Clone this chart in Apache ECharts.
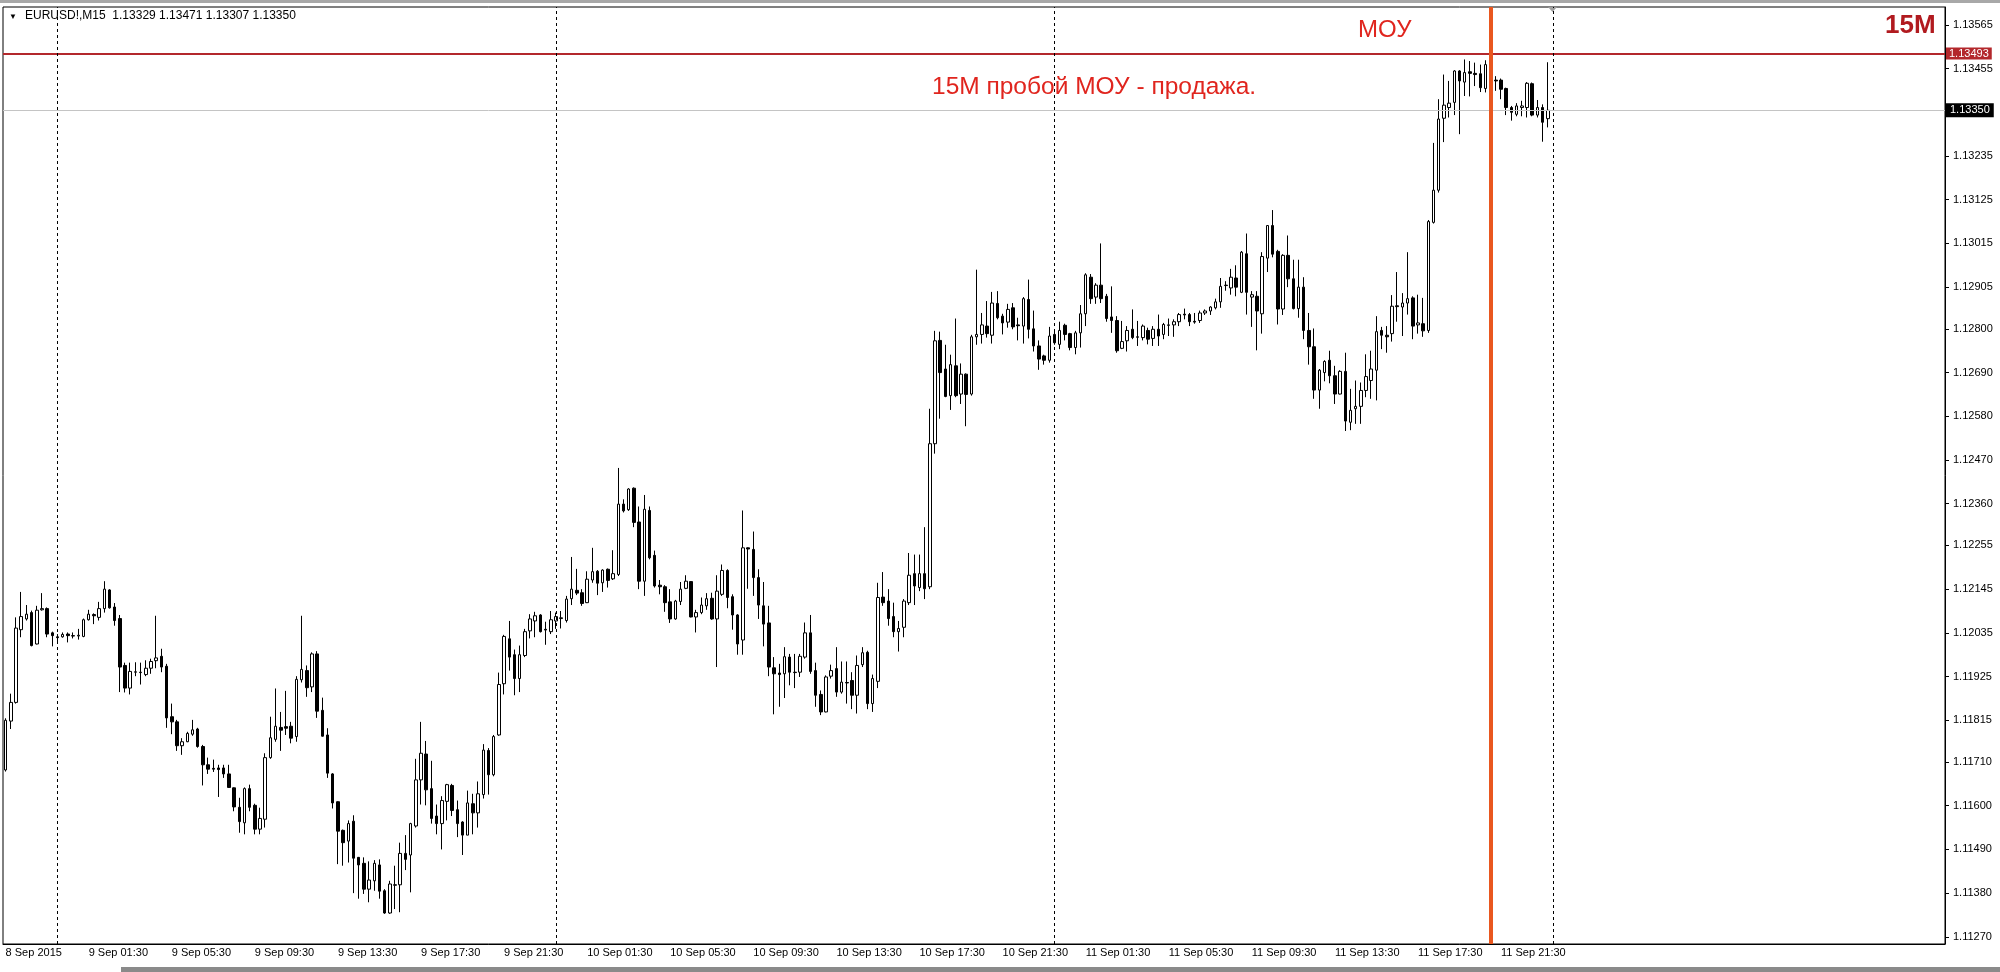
<!DOCTYPE html>
<html>
<head>
<meta charset="utf-8">
<title>EURUSD M15</title>
<script src="https://cdn.jsdelivr.net/npm/echarts@6/dist/echarts.min.js"></script>
<style>
  html, body { margin: 0; padding: 0; background: #fff; }
  #chart { width: 2000px; height: 972px; }
</style>
</head>
<body>
<div id="chart"></div>
<script>
// EURUSD M15 candles, 8 Sep 2015 21:30 -> 11 Sep 23:45, MT4 style

const headerText = 'EURUSD!,M15  1.13329 1.13471 1.13307 1.13350';

const opens = [
  1.11690,1.11813,1.11860,1.12043,1.12070,1.12086,1.12007,1.12093,1.12096,1.12035,
  1.12025,1.12025,1.12032,1.12028,1.12027,1.12026,1.12068,1.12081,1.12074,1.12096,
  1.12143,1.12100,1.12071,1.11953,1.11896,1.11936,1.11936,1.11930,1.11946,1.11965,
  1.11976,1.11951,1.11824,1.11811,1.11751,1.11761,1.11780,1.11793,1.11749,1.11703,
  1.11694,1.11695,1.11695,1.11680,1.11645,1.11596,1.11557,1.11643,1.11601,1.11541,
  1.11566,1.11721,1.11767,1.11797,1.11799,1.11800,1.11774,1.11917,1.11940,1.11899,
  1.11982,1.11840,1.11778,1.11680,1.11610,1.11538,1.11511,1.11561,1.11470,1.11455,
  1.11390,1.11411,1.11451,1.11386,1.11330,1.11401,1.11401,1.11480,1.11476,1.11549,
  1.11665,1.11730,1.11643,1.11574,1.11555,1.11611,1.11651,1.11590,1.11559,1.11526,
  1.11605,1.11582,1.11628,1.11739,1.11678,1.11778,1.11907,1.12020,1.11980,1.11920,
  1.11978,1.12040,1.12065,1.12080,1.12044,1.12038,1.12065,1.12071,1.12066,1.12121,
  1.12142,1.12136,1.12111,1.12168,1.12190,1.12161,1.12195,1.12171,1.12182,1.12359,
  1.12345,1.12399,1.12314,1.12165,1.12343,1.12230,1.12155,1.12151,1.12113,1.12070,
  1.12114,1.12147,1.12164,1.12075,1.12086,1.12103,1.12122,1.12070,1.12132,1.12192,
  1.12126,1.12080,1.12017,1.12249,1.12245,1.12174,1.12103,1.12060,1.11947,1.11934,
  1.11932,1.11974,1.11936,1.11936,1.11974,1.12035,1.11940,1.11880,1.11836,1.11926,
  1.11945,1.11886,1.11910,1.11915,1.11878,1.11955,1.11986,1.11857,1.11913,1.12125,
  1.12115,1.12076,1.12038,1.12049,1.12111,1.12184,1.12149,1.12184,1.12151,1.12511,
  1.12771,1.12699,1.12632,1.12707,1.12636,1.12686,1.12636,1.12780,1.12786,1.12807,
  1.12784,1.12864,1.12832,1.12817,1.12853,1.12810,1.12807,1.12874,1.12800,1.12757,
  1.12732,1.12721,1.12786,1.12761,1.12809,1.12788,1.12753,1.12790,1.12838,1.12930,
  1.12880,1.12910,1.12882,1.12830,1.12821,1.12751,1.12770,1.12799,1.12780,1.12778,
  1.12796,1.12776,1.12799,1.12786,1.12810,1.12810,1.12818,1.12837,1.12836,1.12819,
  1.12821,1.12840,1.12845,1.12853,1.12868,1.12910,1.12903,1.12928,1.12892,1.12989,
  1.12880,1.12882,1.12838,1.12978,1.13060,1.12995,1.12850,1.12985,1.12926,1.12851,
  1.12905,1.12796,1.12755,1.12646,1.12690,1.12721,1.12682,1.12636,1.12693,1.12565,
  1.12599,1.12605,1.12645,1.12670,1.12696,1.12796,1.12784,1.12788,1.12858,1.12855,
  1.12865,1.12878,1.12810,1.12813,1.12796,1.13068,1.13149,1.13330,1.13357,1.13370,
  1.13449,1.13421,1.13447,1.13443,1.13442,1.13405,1.13463,1.13426,1.13426,1.13405,
  1.13357,1.13340,1.13357,1.13357,1.13417,1.13338,1.13357,1.13329
];

const closes = [
  1.11815,1.11860,1.12047,1.12076,1.12082,1.12003,1.12092,1.12096,1.12032,1.12028,
  1.12023,1.12031,1.12028,1.12027,1.12029,1.12068,1.12082,1.12078,1.12096,1.12145,
  1.12098,1.12066,1.11949,1.11896,1.11938,1.11937,1.11935,1.11946,1.11963,1.11972,
  1.11949,1.11821,1.11811,1.11751,1.11761,1.11782,1.11791,1.11749,1.11703,1.11692,
  1.11692,1.11691,1.11680,1.11646,1.11597,1.11560,1.11643,1.11596,1.11541,1.11568,
  1.11721,1.11771,1.11800,1.11790,1.11795,1.11770,1.11918,1.11943,1.11897,1.11982,
  1.11838,1.11775,1.11682,1.11607,1.11536,1.11507,1.11555,1.11468,1.11451,1.11390,
  1.11413,1.11455,1.11385,1.11330,1.11403,1.11400,1.11480,1.11465,1.11555,1.11665,
  1.11732,1.11640,1.11568,1.11555,1.11613,1.11653,1.11588,1.11555,1.11526,1.11607,
  1.11582,1.11630,1.11740,1.11678,1.11774,1.11905,1.12026,1.11974,1.11920,1.11980,
  1.12038,1.12070,1.12078,1.12038,1.12042,1.12068,1.12076,1.12073,1.12120,1.12145,
  1.12135,1.12109,1.12170,1.12189,1.12160,1.12193,1.12167,1.12184,1.12359,1.12342,
  1.12397,1.12313,1.12165,1.12346,1.12224,1.12153,1.12151,1.12111,1.12070,1.12115,
  1.12145,1.12165,1.12075,1.12086,1.12105,1.12121,1.12070,1.12140,1.12192,1.12124,
  1.12080,1.12007,1.12249,1.12246,1.12174,1.12105,1.12057,1.11949,1.11932,1.11930,
  1.11975,1.11936,1.11935,1.11976,1.12035,1.11938,1.11878,1.11836,1.11924,1.11940,
  1.11886,1.11911,1.11909,1.11878,1.11953,1.11985,1.11857,1.11920,1.12124,1.12111,
  1.12071,1.12038,1.12046,1.12115,1.12180,1.12153,1.12184,1.12146,1.12511,1.12770,
  1.12690,1.12630,1.12710,1.12632,1.12686,1.12635,1.12780,1.12786,1.12810,1.12788,
  1.12865,1.12828,1.12815,1.12849,1.12805,1.12808,1.12876,1.12799,1.12757,1.12724,
  1.12721,1.12782,1.12765,1.12796,1.12786,1.12753,1.12790,1.12838,1.12936,1.12876,
  1.12910,1.12876,1.12826,1.12821,1.12745,1.12768,1.12796,1.12778,1.12779,1.12807,
  1.12774,1.12799,1.12782,1.12811,1.12809,1.12818,1.12836,1.12835,1.12818,1.12817,
  1.12840,1.12845,1.12855,1.12868,1.12907,1.12909,1.12930,1.12905,1.12993,1.12892,
  1.12886,1.12845,1.12982,1.13060,1.12988,1.12850,1.12985,1.12926,1.12851,1.12905,
  1.12796,1.12755,1.12646,1.12696,1.12718,1.12682,1.12636,1.12693,1.12568,1.12595,
  1.12605,1.12645,1.12680,1.12699,1.12793,1.12784,1.12780,1.12857,1.12856,1.12865,
  1.12876,1.12807,1.12815,1.12795,1.13070,1.13149,1.13328,1.13363,1.13368,1.13449,
  1.13424,1.13445,1.13443,1.13440,1.13407,1.13465,1.13421,1.13424,1.13403,1.13357,
  1.13345,1.13361,1.13361,1.13418,1.13338,1.13357,1.13320,1.13350
];

const lows = [
  1.11686,1.11793,1.11857,1.12024,1.12066,1.12001,1.12006,1.12091,1.12024,1.12001,
  1.12007,1.12023,1.12011,1.12021,1.12018,1.12024,1.12066,1.12057,1.12066,1.12086,
  1.12096,1.12053,1.11886,1.11885,1.11880,1.11926,1.11905,1.11926,1.11932,1.11946,
  1.11936,1.11796,1.11780,1.11738,1.11728,1.11760,1.11776,1.11746,1.11651,1.11680,
  1.11685,1.11622,1.11670,1.11645,1.11586,1.11532,1.11528,1.11586,1.11528,1.11528,
  1.11545,1.11718,1.11761,1.11738,1.11778,1.11757,1.11761,1.11910,1.11874,1.11886,
  1.11821,1.11774,1.11670,1.11593,1.11453,1.11449,1.11457,1.11380,1.11366,1.11378,
  1.11357,1.11386,1.11366,1.11328,1.11328,1.11340,1.11332,1.11438,1.11382,1.11545,
  1.11603,1.11601,1.11555,1.11528,1.11490,1.11563,1.11574,1.11521,1.11476,1.11526,
  1.11528,1.11545,1.11618,1.11628,1.11674,1.11776,1.11880,1.11940,1.11878,1.11886,
  1.11974,1.12021,1.12024,1.12036,1.12005,1.12032,1.12045,1.12046,1.12061,1.12105,
  1.12130,1.12103,1.12110,1.12161,1.12130,1.12138,1.12149,1.12168,1.12178,1.12338,
  1.12342,1.12301,1.12145,1.12128,1.12220,1.12149,1.12132,1.12088,1.12060,1.12068,
  1.12105,1.12145,1.12074,1.12036,1.12082,1.12093,1.12068,1.11949,1.12128,1.12097,
  1.12043,1.11980,1.11980,1.12146,1.12128,1.12070,1.12001,1.11926,1.11830,1.11849,
  1.11871,1.11903,1.11896,1.11924,1.11970,1.11932,1.11849,1.11828,1.11835,1.11920,
  1.11874,1.11882,1.11857,1.11843,1.11832,1.11949,1.11843,1.11836,1.11896,1.12103,
  1.12053,1.12024,1.11988,1.12024,1.12105,1.12105,1.12140,1.12120,1.12145,1.12486,
  1.12574,1.12628,1.12596,1.12628,1.12611,1.12555,1.12632,1.12760,1.12763,1.12778,
  1.12763,1.12824,1.12786,1.12803,1.12799,1.12771,1.12763,1.12776,1.12743,1.12697,
  1.12710,1.12715,1.12760,1.12749,1.12771,1.12746,1.12736,1.12753,1.12807,1.12863,
  1.12863,1.12865,1.12818,1.12790,1.12740,1.12749,1.12743,1.12774,1.12757,1.12771,
  1.12761,1.12757,1.12757,1.12774,1.12782,1.12780,1.12807,1.12824,1.12807,1.12813,
  1.12815,1.12835,1.12835,1.12849,1.12853,1.12896,1.12886,1.12882,1.12890,1.12836,
  1.12805,1.12746,1.12788,1.12943,1.12980,1.12811,1.12835,1.12905,1.12849,1.12828,
  1.12774,1.12710,1.12624,1.12599,1.12668,1.12663,1.12611,1.12635,1.12543,1.12545,
  1.12561,1.12561,1.12628,1.12624,1.12620,1.12749,1.12740,1.12768,1.12818,1.12782,
  1.12836,1.12774,1.12788,1.12780,1.12790,1.13065,1.13143,1.13270,1.13332,1.13338,
  1.13290,1.13386,1.13385,1.13411,1.13396,1.13395,1.13411,1.13399,1.13378,1.13338,
  1.13324,1.13335,1.13335,1.13332,1.13335,1.13332,1.13271,1.13307
];

const highs = [
  1.11820,1.11882,1.12074,1.12138,1.12105,1.12091,1.12103,1.12135,1.12099,1.12038,
  1.12032,1.12036,1.12036,1.12036,1.12045,1.12071,1.12093,1.12084,1.12113,1.12165,
  1.12145,1.12110,1.12080,1.11960,1.11960,1.11961,1.11960,1.11966,1.11970,1.12078,
  1.11995,1.11957,1.11857,1.11816,1.11770,1.11786,1.11816,1.11796,1.11753,1.11721,
  1.11716,1.11703,1.11703,1.11703,1.11646,1.11620,1.11646,1.11653,1.11605,1.11595,
  1.11732,1.11824,1.11895,1.11836,1.11889,1.11811,1.11926,1.12078,1.11953,1.11986,
  1.11989,1.11872,1.11795,1.11682,1.11611,1.11540,1.11563,1.11576,1.11471,1.11470,
  1.11460,1.11463,1.11465,1.11390,1.11411,1.11449,1.11507,1.11526,1.11557,1.11718,
  1.11811,1.11763,1.11713,1.11603,1.11624,1.11655,1.11655,1.11613,1.11561,1.11638,
  1.11630,1.11661,1.11755,1.11745,1.11778,1.11935,1.12030,1.12065,1.11993,1.12003,
  1.12045,1.12082,1.12088,1.12082,1.12063,1.12090,1.12086,1.12090,1.12128,1.12226,
  1.12196,1.12145,1.12190,1.12249,1.12193,1.12195,1.12197,1.12243,1.12450,1.12371,
  1.12399,1.12401,1.12353,1.12382,1.12353,1.12242,1.12168,1.12155,1.12145,1.12118,
  1.12163,1.12180,1.12165,1.12093,1.12124,1.12135,1.12136,1.12180,1.12207,1.12195,
  1.12132,1.12082,1.12343,1.12250,1.12290,1.12195,1.12163,1.12103,1.11974,1.11957,
  1.11999,1.11982,1.11982,1.11982,1.12061,1.12080,1.11960,1.11890,1.11928,1.11955,
  1.11999,1.11963,1.11963,1.11936,1.11978,1.11999,1.11990,1.11930,1.12161,1.12188,
  1.12145,1.12111,1.12065,1.12120,1.12236,1.12232,1.12232,1.12301,1.12599,1.12795,
  1.12793,1.12760,1.12735,1.12826,1.12713,1.12688,1.12785,1.12949,1.12840,1.12870,
  1.12893,1.12895,1.12838,1.12863,1.12865,1.12828,1.12880,1.12924,1.12846,1.12771,
  1.12735,1.12805,1.12795,1.12818,1.12813,1.12790,1.12795,1.12860,1.12940,1.12938,
  1.12915,1.13015,1.12888,1.12907,1.12832,1.12820,1.12807,1.12849,1.12820,1.12811,
  1.12803,1.12807,1.12836,1.12815,1.12826,1.12824,1.12840,1.12851,1.12840,1.12840,
  1.12846,1.12849,1.12857,1.12876,1.12928,1.12920,1.12951,1.12960,1.12996,1.13040,
  1.12895,1.12895,1.12993,1.13061,1.13099,1.12999,1.12988,1.13035,1.12974,1.12974,
  1.12930,1.12840,1.12801,1.12699,1.12721,1.12745,1.12707,1.12696,1.12740,1.12649,
  1.12670,1.12665,1.12736,1.12745,1.12832,1.12805,1.12807,1.12885,1.12943,1.12890,
  1.12993,1.12882,1.12886,1.12878,1.13074,1.13268,1.13378,1.13440,1.13424,1.13451,
  1.13451,1.13478,1.13474,1.13470,1.13465,1.13476,1.13490,1.13436,1.13430,1.13407,
  1.13361,1.13368,1.13374,1.13421,1.13420,1.13376,1.13365,1.13471
];

const yTicks = [
  1.11270, 1.11380, 1.11490, 1.11600, 1.11710, 1.11815, 1.11925, 1.12035,
  1.12145, 1.12255, 1.12360, 1.12470, 1.12580, 1.12690, 1.12800, 1.12905,
  1.13015, 1.13125, 1.13235, 1.13455, 1.13565
];

const xTicks = [
  '8 Sep 2015', '9 Sep 01:30', '9 Sep 05:30', '9 Sep 09:30', '9 Sep 13:30',
  '9 Sep 17:30', '9 Sep 21:30', '10 Sep 01:30', '10 Sep 05:30', '10 Sep 09:30',
  '10 Sep 13:30', '10 Sep 17:30', '10 Sep 21:30', '11 Sep 01:30', '11 Sep 05:30',
  '11 Sep 09:30', '11 Sep 13:30', '11 Sep 17:30', '11 Sep 21:30'
];

const daySeparators = ['9 Sep 00:00', '10 Sep 00:00', '11 Sep 00:00', '12 Sep 00:00'];
const entryBar = '11 Sep 21:00';
const levelPrice = 1.13493;   // МОУ level
const bidPrice = 1.13350;

// 15-minute slots from the first bar; extra empty slots give the MT4 right-side shift
const slotCount = 374;
const categories = [];
for (let i = 0; i < slotCount; i++) {
  const m = 21 * 60 + 30 + i * 15;
  const day = 8 + Math.floor(m / 1440);
  const t = m % 1440;
  categories.push(day + ' Sep ' + String(Math.floor(t / 60)).padStart(2, '0') + ':' + String(t % 60).padStart(2, '0'));
}

const candles = opens.map((o, i) => [o, closes[i], lows[i], highs[i]]);

const font = 'Liberation Sans, Arial, sans-serif';
const isTick = (idx, val) => idx === 0 || xTicks.includes(val);

const chart = echarts.init(document.getElementById('chart'));

const option = {
  animation: false,
  backgroundColor: '#fff',
  grid: {
    left: 3, right: 55, top: 7, bottom: 28,
    show: true, borderColor: '#000', borderWidth: 1, backgroundColor: '#fff'
  },
  xAxis: {
    type: 'category',
    data: categories,
    axisLine: { lineStyle: { color: '#000', width: 1 } },
    axisTick: { alignWithLabel: true, length: 4, interval: isTick, lineStyle: { color: '#000' } },
    axisLabel: {
      interval: isTick,
      formatter: (v, idx) => (idx === 0 ? xTicks[0] : v),
      align: 'left', margin: 3, color: '#000', fontSize: 11, fontFamily: font
    },
    splitLine: { show: false }
  },
  yAxis: {
    type: 'value',
    position: 'right',
    min: 1.11252,
    max: 1.13610,
    axisLine: { show: true, lineStyle: { color: '#000', width: 1 } },
    axisTick: { show: true, length: 4, customValues: yTicks, lineStyle: { color: '#000' } },
    axisLabel: {
      customValues: yTicks,
      formatter: v => v.toFixed(5),
      margin: 8, color: '#000', fontSize: 11, fontFamily: font
    },
    splitLine: { show: false }
  },
  graphic: [
    { type: 'rect', left: 0, top: 0, shape: { width: 2000, height: 3 }, style: { fill: '#a8a8a8' } },
    { type: 'text', left: 9, top: 13, style: { text: '▼', fontSize: 8, fill: '#000', fontFamily: font } },
    { type: 'text', left: 25, top: 10, style: { text: headerText, fontSize: 12, fill: '#000', fontFamily: font } },
    { type: 'text', left: 1358, top: 18, style: { text: 'МОУ', fontSize: 24, fill: '#e0251e', fontFamily: font } },
    { type: 'text', left: 932, top: 75, style: { text: '15M пробой МОУ - продажа.', fontSize: 24.5, fill: '#e0251e', fontFamily: font } },
    { type: 'text', left: 1885, top: 13, style: { text: '15M', fontSize: 26, fontWeight: 'bold', fill: '#b11a1f', fontFamily: font } },
    { type: 'polygon', shape: { points: [[1548, 7], [1557, 7], [1552.5, 12]] }, style: { fill: '#a0a0a0' } },
    { type: 'rect', left: 121, top: 967, shape: { width: 1879, height: 5 }, style: { fill: '#8a8a8a' } }
  ],
  series: [{
    type: 'candlestick',
    data: candles,
    barWidth: 3,
    itemStyle: {
      color: '#ffffff',
      color0: '#000000',
      borderColor: '#000000',
      borderColor0: '#000000',
      borderWidth: 1
    },
    markLine: {
      silent: true,
      precision: 5,
      symbol: ['none', 'none'],
      animation: false,
      data: [
        {
          yAxis: bidPrice,
          lineStyle: { color: '#c4c4c4', width: 1, type: 'solid' },
          label: {
            show: true, position: 'end', distance: 1, formatter: bidPrice.toFixed(5),
            backgroundColor: '#000', color: '#fff', padding: [2, 4, 1, 4], fontSize: 11, fontFamily: font
          }
        },
        {
          yAxis: levelPrice,
          lineStyle: { color: '#b3282c', width: 2, type: 'solid' },
          label: {
            show: true, position: 'end', distance: 1, formatter: levelPrice.toFixed(5),
            backgroundColor: '#b3282c', color: '#fff', padding: [1, 3, 0, 3], fontSize: 11, fontFamily: font
          }
        },
        ...daySeparators.map(d => ({
          xAxis: d,
          lineStyle: { color: '#000', width: 1, type: [3, 3] },
          label: { show: false }
        })),
        {
          xAxis: entryBar,
          lineStyle: { color: '#e9571f', width: 4, type: 'solid' },
          label: { show: false }
        }
      ]
    }
  }]
};

chart.setOption(option);
window.addEventListener('resize', () => chart.resize());
</script>
</body>
</html>
